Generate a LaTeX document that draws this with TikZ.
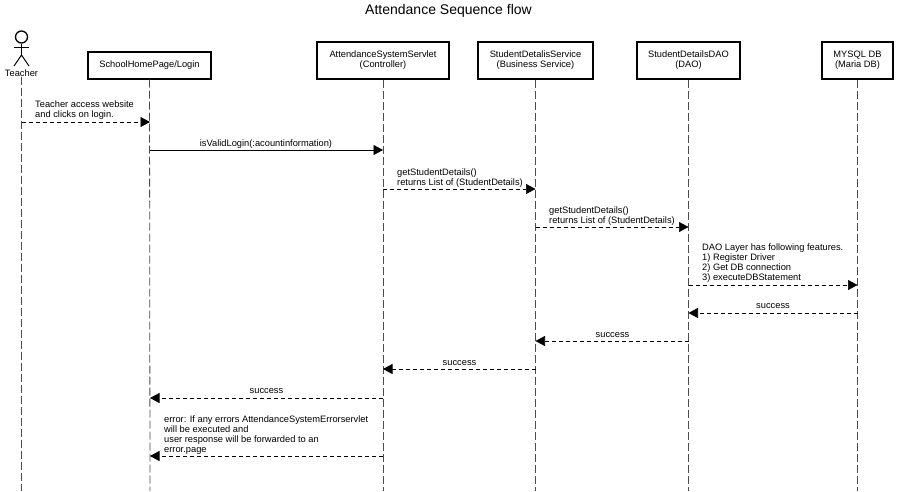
\documentclass[tikz,border=0pt]{standalone}
\usepackage{fontspec}
\setmainfont{Liberation Sans}
\usetikzlibrary{arrows.meta}

\tikzset{
    lifebox/.style={draw=black, line width=1.3pt, fill=white, align=center, inner sep=0pt, font=\fontsize{9.3}{10}\selectfont},
    lifeline/.style={draw=black!70, dash pattern=on 8pt off 3pt, line width=0.8pt},
    callmsg/.style={draw=black, line width=0.7pt, -{Triangle[length=9.5pt,width=10pt]}},
    retmsg/.style={callmsg, dash pattern=on 4pt off 3pt},
    msgtext/.style={align=left, inner sep=0pt, font=\fontsize{9.3}{10}\selectfont},
}

\begin{document}
\begin{tikzpicture}[x=1pt, y=-1pt]
    \useasboundingbox (0,0) rectangle (897,491);

    % Title
    \node[font=\fontsize{14}{16}\selectfont, inner sep=0pt] (title) at (448.5,11) {Attendance Sequence flow};

    % Actor
    \node[circle, draw=black, line width=1.3pt, minimum size=12pt, inner sep=0pt] (head) at (21.5,37) {};
    \coordinate (hip) at (21.5,55);
    \coordinate (armL) at (14,47);
    \coordinate (armR) at (29,47);
    \coordinate (legL) at (14,66);
    \coordinate (legR) at (29,66);
    \draw[line width=1pt] (head) -- (hip);
    \draw[line width=1pt] (armL) -- (armR);
    \draw[line width=1pt] (legL) -- (hip) -- (legR);
    \node[msgtext] (teacher) at (21.5,73) {Teacher};

    % Lifeline boxes
    \node[lifebox, minimum width=123pt, minimum height=27pt] (school) at (149.5,65.5) {SchoolHomePage/Login};
    \node[lifebox, minimum width=132pt, minimum height=37pt] (servlet) at (383,60.5) {AttendanceSystemServlet\\(Controller)};
    \node[lifebox, minimum width=115pt, minimum height=37pt] (service) at (535.5,60.5) {StudentDetalisService\\(Business Service)};
    \node[lifebox, minimum width=103pt, minimum height=37pt] (dao) at (688.5,60.5) {StudentDetailsDAO\\(DAO)};
    \node[lifebox, minimum width=71pt, minimum height=37pt] (db) at (857.5,60.5) {MYSQL DB\\(Maria DB)};

    % Lifelines
    \coordinate (teacherEnd) at (21.5,491);
    \coordinate (schoolEnd) at (150,491);
    \coordinate (servletEnd) at (383,491);
    \coordinate (serviceEnd) at (535.5,491);
    \coordinate (daoEnd) at (688.5,491);
    \coordinate (dbEnd) at (857.5,491);
    \draw[lifeline] (teacher.south) -- (teacherEnd);
    \draw[lifeline] (school.south) -- (schoolEnd);
    \draw[lifeline] (servlet.south) -- (servletEnd);
    \draw[lifeline] (service.south) -- (serviceEnd);
    \draw[lifeline] (dao.south) -- (daoEnd);
    \draw[lifeline] (db.south) -- (dbEnd);

    % Message end points
    \coordinate (m1a) at (21.5,122);   \coordinate (m1b) at (150,122);
    \coordinate (m2a) at (150,150);    \coordinate (m2b) at (383,150);
    \coordinate (m3a) at (383,189);    \coordinate (m3b) at (535.5,189);
    \coordinate (m4a) at (535.5,227);  \coordinate (m4b) at (688.5,227);
    \coordinate (m5a) at (688.5,285);  \coordinate (m5b) at (857.5,285);
    \coordinate (m6a) at (857.5,313);  \coordinate (m6b) at (688.5,313);
    \coordinate (m7a) at (688.5,341);  \coordinate (m7b) at (535.5,341);
    \coordinate (m8a) at (535.5,369);  \coordinate (m8b) at (383,369);
    \coordinate (m9a) at (383,398);    \coordinate (m9b) at (150,398);
    \coordinate (m10a) at (383,456);   \coordinate (m10b) at (150,456);

    % Messages
    \draw[retmsg] (m1a) -- (m1b);
    \draw[callmsg] (m2a) -- (m2b);
    \draw[retmsg] (m3a) -- (m3b);
    \draw[retmsg] (m4a) -- (m4b);
    \draw[retmsg] (m5a) -- (m5b);
    \draw[retmsg] (m6a) -- (m6b);
    \draw[retmsg] (m7a) -- (m7b);
    \draw[retmsg] (m8a) -- (m8b);
    \draw[retmsg] (m9a) -- (m9b);
    \draw[retmsg] (m10a) -- (m10b);

    % Message labels
    \node[msgtext, anchor=west] (l1) at (35,110) {Teacher access website\\and clicks on login.};
    \node[msgtext] (l2) at (266,144) {isValidLogin(:acountinformation)};
    \node[msgtext, anchor=west] (l3) at (397,178) {getStudentDetails()\\returns List of (StudentDetails)};
    \node[msgtext, anchor=west] (l4) at (549,216) {getStudentDetails()\\returns List of (StudentDetails)};
    \node[msgtext, anchor=west] (l5) at (702,263.5) {DAO Layer has following features.\\1) Register Driver\\2) Get DB connection\\3) executeDBStatement};
    \node[msgtext] (l6) at (773,306.5) {success};
    \node[msgtext] (l7) at (612.5,335.5) {success};
    \node[msgtext] (l8) at (459.5,363.5) {success};
    \node[msgtext] (l9) at (266.5,391.5) {success};
    \node[msgtext, anchor=west] (l10) at (164,435) {error: If any errors AttendanceSystemErrorservlet\\will be executed and\\user response will be forwarded to an\\error.page};
\end{tikzpicture}
\end{document}
